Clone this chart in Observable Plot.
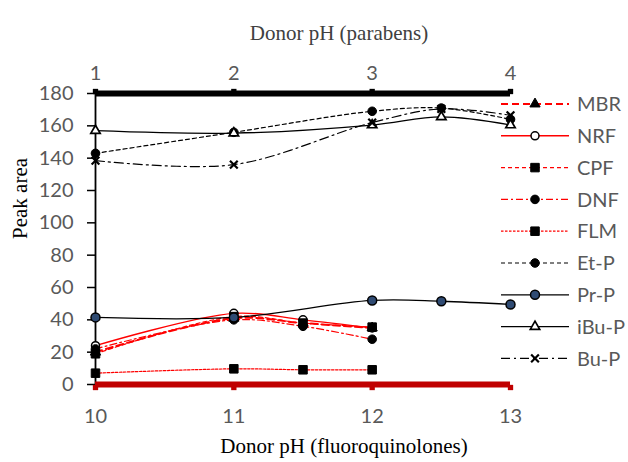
<!DOCTYPE html>
<html><head><meta charset="utf-8">
<script src="https://cdn.jsdelivr.net/npm/d3@7"></script>
<script src="https://cdn.jsdelivr.net/npm/@observablehq/plot@0.6"></script>
<style>html,body{margin:0;padding:0;background:#fff}</style>
</head><body><div id="chart"></div>
<script>
// ---- data ----
const fqX = [10, 11, 11.5, 12];            // donor pH (fluoroquinolones)
const MBR = [20, 41, 38, 35];
const NRF = [24, 44, 40, 35];
const CPF = [19, 42, 38, 35.5];
const DNF = [22, 40, 36, 28];
const FLM = [7, 9.7, 9.1, 9.1];
const parX = [1, 2, 3, 3.5, 4];            // donor pH (parabens)
const EtP = [143, 156, 169, 171, 164];
const PrP = [41.5, 41.5, 52, 51.5, 49.5];
const iBuP = [157, 155.5, 160.5, 165.5, 160.5];
const BuP = [138.5, 136, 162, 170.5, 166.5];
const fqTicks = [10, 11, 12, 13];
const parTicks = [1, 2, 3, 4];
const yTicks = [0, 20, 40, 60, 80, 100, 120, 140, 160, 180];
const seriesNames = ["MBR", "NRF", "CPF", "DNF", "FLM", "Et-P", "Pr-P", "iBu-P", "Bu-P"];
const titleTop = "Donor pH (parabens)";
const titleBottom = "Donor pH (fluoroquinolones)";
const titleY = "Peak area";

// parabens axis is drawn over the fluoroquinolone axis (1..4 aligned with 10..13)
const parOffset = fqTicks[0] - parTicks[0];

const seriesData = {
  "MBR": [fqX, MBR, 0], "NRF": [fqX, NRF, 0], "CPF": [fqX, CPF, 0], "DNF": [fqX, DNF, 0], "FLM": [fqX, FLM, 0],
  "Et-P": [parX, EtP, parOffset], "Pr-P": [parX, PrP, parOffset], "iBu-P": [parX, iBuP, parOffset], "Bu-P": [parX, BuP, parOffset]
};

const styles = {
  "MBR":  {stroke: "#FF0000", sw: 2,   dash: "7,4",     symbol: "triangle", fill: "black", r: 3.8, msw: 1},
  "NRF":  {stroke: "#FF0000", sw: 1.4, dash: null,      symbol: "circle",   fill: "white", r: 4.0, msw: 1.5},
  "CPF":  {stroke: "#FF0000", sw: 1.2, dash: "4,3",     symbol: "square",   fill: "black", r: 4.8, msw: 1},
  "DNF":  {stroke: "#FF0000", sw: 1.2, dash: "7,3,2,3", symbol: "circle",   fill: "black", r: 4.3, msw: 1},
  "FLM":  {stroke: "#FF0000", sw: 1.2, dash: "2.5,1.5", symbol: "square",   fill: "black", r: 4.8, msw: 1},
  "Et-P": {stroke: "black",   sw: 1.2, dash: "4,3",     symbol: "circle",   fill: "black", r: 4.3, msw: 1},
  "Pr-P": {stroke: "black",   sw: 1.3, dash: null,      symbol: "circle",   fill: "#2F4B73", r: 4.5, msw: 1.5},
  "iBu-P":{stroke: "black",   sw: 1.3, dash: null,      symbol: "triangle", fill: "white", r: 3.5, msw: 1.7},
  "Bu-P": {stroke: "black",   sw: 1.2, dash: "9,4,2,4", symbol: "times",    fill: "none",  r: 3.6, msw: 2.2}
};

const marks = [];
// left axis line
marks.push(Plot.ruleX([{x: fqTicks[0], y1: yTicks[0], y2: yTicks[yTicks.length - 1]}],
  {x: "x", y1: "y1", y2: "y2", stroke: "black", strokeWidth: 1.8}));
// y axis ticks and labels
marks.push(Plot.axisY(yTicks, {tickSize: 8, color: "black", strokeWidth: 1.5, tickFormat: () => "", label: null}));
marks.push(Plot.axisY(yTicks, {tickSize: 0, tickPadding: 22, color: "#595959", label: null, tickFormat: d => String(d)}));
// x axes labels
marks.push(Plot.axisX(fqTicks, {anchor: "bottom", tickSize: 0, tickPadding: 24, color: "#595959", label: null, tickFormat: d => String(d)}));
marks.push(Plot.axisX(parTicks.map(d => d + parOffset), {anchor: "top", tickSize: 0, tickPadding: 14, color: "#595959", label: null, tickFormat: d => String(d - parOffset)}));

// series
for (const name of seriesNames) {
  const [xs, ys, off] = seriesData[name];
  const s = styles[name];
  const rows = xs.map((x, i) => ({x: x + off, y: ys[i]}));
  marks.push(Plot.line(rows, {x: "x", y: "y", curve: "catmull-rom", stroke: s.stroke, strokeWidth: s.sw, strokeDasharray: s.dash || undefined}));
}
for (const name of seriesNames) {
  const [xs, ys, off] = seriesData[name];
  const s = styles[name];
  const rows = xs.map((x, i) => ({x: x + off, y: ys[i]}));
  marks.push(Plot.dot(rows, {x: "x", y: "y", symbol: s.symbol, r: s.r, fill: s.fill, stroke: "black", strokeWidth: s.msw}));
}

// heavy top (parabens) axis line and its tick bumps
marks.push(Plot.ruleY([{y: yTicks[yTicks.length - 1], x1: fqTicks[0], x2: fqTicks[fqTicks.length - 1]}],
  {y: "y", x1: "x1", x2: "x2", stroke: "black", strokeWidth: 6}));
marks.push(Plot.dot(parTicks, {x: d => d + parOffset, y: () => yTicks[yTicks.length - 1], symbol: "square", r: 3, fill: "black", dy: -2}));
// heavy bottom (fluoroquinolones) axis line
marks.push(Plot.ruleY([{y: yTicks[0], x1: fqTicks[0], x2: fqTicks[fqTicks.length - 1]}],
  {y: "y", x1: "x1", x2: "x2", stroke: "#C00000", strokeWidth: 6}));
marks.push(Plot.dot(fqTicks, {x: d => d, y: () => yTicks[0], symbol: "square", r: 3, fill: "#C00000", dy: 3}));

// titles
const serif = "'Liberation Serif', 'Times New Roman', serif";
marks.push(Plot.text([titleTop], {text: d => d, frameAnchor: "top", dx: 36, dy: -68, fontFamily: serif, fontSize: 21, fill: "#404040"}));
marks.push(Plot.text([titleBottom], {text: d => d, frameAnchor: "bottom", dx: 41, dy: 68, fontFamily: serif, fontSize: 21, fill: "black"}));
marks.push(Plot.text([titleY], {text: d => d, frameAnchor: "left", dx: -75, rotate: -90, fontFamily: serif, fontSize: 21, fill: "black"}));

const chart = Plot.plot({
  width: 628,
  height: 462,
  marginLeft: 95,
  marginRight: 118,
  marginTop: 93,
  marginBottom: 78,
  x: {domain: [fqTicks[0], fqTicks[fqTicks.length - 1]]},
  y: {domain: [yTicks[0], yTicks[yTicks.length - 1]]},
  style: {fontFamily: "Lato, 'Open Sans', sans-serif", fontSize: "20px", background: "white", overflow: "visible"},
  marks
});
document.getElementById("chart").appendChild(chart);

// legend (right side)
const svg = d3.select(chart);
const lg = svg.append("g").attr("class", "legend").attr("text-anchor", "start");
const symMap = {circle: d3.symbolCircle, square: d3.symbolSquare, triangle: d3.symbolTriangle, times: d3.symbolTimes};
seriesNames.forEach((name, i) => {
  const s = styles[name];
  const y = 104 + i * 31.8;
  lg.append("line").attr("x1", 501).attr("x2", 569).attr("y1", y).attr("y2", y)
    .attr("stroke", s.stroke).attr("stroke-width", s.sw)
    .attr("stroke-dasharray", s.dash || null);
  lg.append("path").attr("transform", `translate(535,${y})`)
    .attr("d", d3.symbol(symMap[s.symbol], Math.PI * s.r * s.r)())
    .attr("fill", s.fill).attr("stroke", "black").attr("stroke-width", s.msw);
  lg.append("text").attr("x", 577).attr("y", y).attr("dy", "0.36em")
    .attr("text-anchor", "start")
    .attr("fill", "#595959").attr("font-size", 20)
    .attr("font-family", "Lato, 'Open Sans', sans-serif").text(name);
});
</script>
</body></html>
